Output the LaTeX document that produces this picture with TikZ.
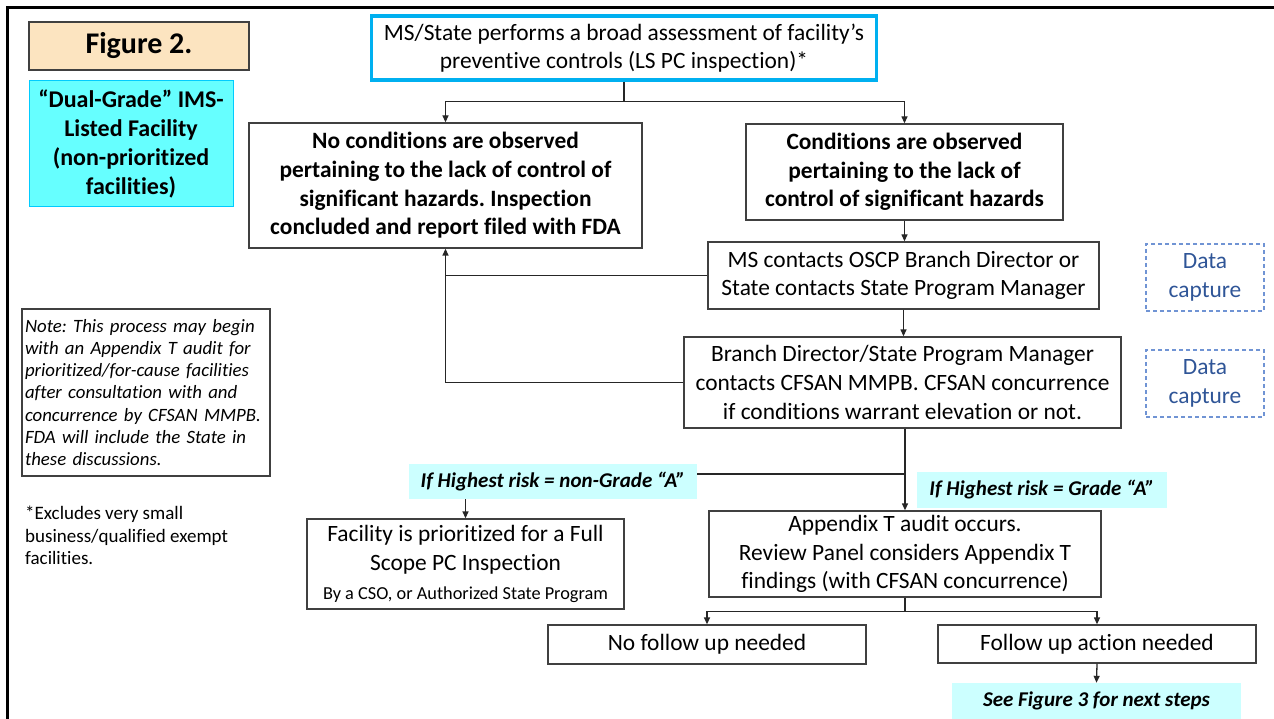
\documentclass[tikz,border=0pt]{standalone}
\usepackage{fontspec}
\setmainfont{Carlito}[Ligatures=NoCommon]
\usepackage{tikz}
\usetikzlibrary{arrows.meta}
\frenchspacing

\definecolor{boxline}{RGB}{64,64,64}
\definecolor{figfill}{RGB}{252,228,192}
\definecolor{dualfill}{RGB}{102,255,255}
\definecolor{dualline}{RGB}{0,204,255}
\definecolor{topline}{RGB}{0,176,240}
\definecolor{riskfill}{RGB}{204,255,255}
\definecolor{dataline}{RGB}{112,148,212}
\definecolor{datatext}{RGB}{47,85,151}

\begin{document}
\begin{tikzpicture}[x=1pt,y=-1pt,>={Triangle[length=7pt,width=6pt]},
    box/.style={draw=boxline,line width=1.3pt,fill=white,inner sep=2pt,
      align=center,font=\fontsize{23.4}{28.7}\selectfont},
    boldbox/.style={box,font=\fontsize{23.4}{28.7}\selectfont\bfseries},
    risk/.style={fill=riskfill,inner sep=2pt,align=center,
      font=\fontsize{21}{25}\selectfont\bfseries\itshape},
    datacap/.style={draw=dataline,line width=1.2pt,dash pattern=on 4pt off 3pt,
      text=datatext,align=center,minimum width=118,minimum height=67,
      font=\fontsize{23.4}{28.7}\selectfont},
    link/.style={draw=black!85,line width=1.3pt}]
          \useasboundingbox (0,0) rectangle (1274,719);
          % slide frame
          \draw[line width=3pt] (7,719)--(7,8)--(1274,8);
          % left column
          \node[draw=boxline,line width=1.3pt,fill=figfill,minimum width=220,
            minimum height=48,font=\fontsize{30}{36}\selectfont\bfseries]
          (fig) at (139,46) {Figure 2.};
          \node[draw=dualline,line width=1pt,fill=dualfill,align=center,
            minimum width=204,minimum height=126,
            font=\fontsize{24}{29}\selectfont\bfseries] (dual) at (131,144)
          {“Dual-Grade” IMS-\\Listed Facility\\(non-prioritized\\facilities)};
          \node[draw=boxline,line width=1.3pt,align=left,text width=242,
            inner xsep=3pt,minimum height=167,
            font=\fontsize{18.8}{22.3}\selectfont\itshape] (note) at (146,392.5)
          {Note: This process may begin\\with an Appendix T audit for\\
            prioritized/for-cause facilities\\after consultation with and\\
            concurrence by CFSAN MMPB.\\FDA will include the State in\\
            these discussions.};
          \node[anchor=north west,inner sep=0pt,align=left,
            font=\fontsize{19}{22.5}\selectfont] (excl) at (25,506)
          {*Excludes very small\\business/qualified exempt\\facilities.};
          % main flow
          \node[box,draw=topline,line width=3.5pt,minimum width=505,
            minimum height=64] (top) at (624,48)
          {MS/State performs a broad assessment of facility’s\\
            preventive controls (LS PC inspection)*};
          \node[boldbox,minimum width=393,minimum height=125] (nocond)
          at (445.5,185.5) {No conditions are observed\\pertaining to the lack
            of control of\\significant hazards. Inspection\\concluded and
            report filed with FDA};
          \node[boldbox,minimum width=317,minimum height=96] (cond)
          at (904.5,172) {Conditions are observed\\pertaining to the lack
            of\\control of significant hazards};
          \node[box,minimum width=391,minimum height=67] (ms) at (903.5,275.5)
          {MS contacts OSCP Branch Director or\\State contacts State Program
            Manager};
          \node[box,minimum width=437,minimum height=91] (branch)
          at (902.5,382.5) {Branch Director/State Program Manager\\contacts
            CFSAN MMPB. CFSAN concurrence\\if conditions warrant elevation
            or not.};
          \node[datacap] (data1) at (1205,277.5) {Data\\capture};
          \node[datacap] (data2) at (1205,383.5) {Data\\capture};
          \node[risk,minimum width=288,minimum height=35] (nongrade)
          at (553,481.5) {If Highest risk = non-Grade “A”};
          \node[risk,minimum width=250,minimum height=36] (grade)
          at (1042,490) {If Highest risk = Grade “A”};
          \node[box,minimum width=317,minimum height=90] (facility)
          at (465.5,564) {Facility is prioritized for a Full\\Scope PC
            Inspection\\{\fontsize{18.3}{22}\selectfont By a CSO, or
              Authorized State Program}};
          \node[box,minimum width=392,minimum height=86] (appendix)
          at (905,554) {Appendix T audit occurs.\\Review Panel considers
            Appendix T\\findings (with CFSAN concurrence)};
          \node[box,minimum width=318,minimum height=39] (nofollow)
          at (707,644.5) {No follow up needed};
          \node[box,minimum width=318,minimum height=38] (follow)
          at (1097,644) {Follow up action needed};
          \node[risk,minimum width=289,minimum height=36] (seefig)
          at (1096.5,701) {See Figure 3 for next steps};
          % connectors
          \draw[link] (top.south)--++(0,20) coordinate (topsplit);
          \draw[link,->] (topsplit)-|(nocond.north);
          \draw[link,->] (topsplit)-|(cond.north);
          \draw[link,->] (cond.south)--(cond.south|-ms.north);
          \draw[link,->] (ms.south)--(ms.south|-branch.north);
          \draw[link] (ms.west)--(ms.west-|nocond.south);
          \draw[link,->] (branch.west)-|(nocond.south);
          \draw[link,->] (branch.south-|appendix.north)--(appendix.north);
          \coordinate (riskjoin) at (905,474);
          \draw[link] (riskjoin)--(riskjoin-|nongrade.east);
          \draw[link,->] (facility.north|-nongrade.south)--(facility.north);
          \draw[link] (appendix.south)--++(0,14) coordinate (appsplit);
          \draw[link,->] (appsplit)-|(nofollow.north);
          \draw[link,->] (appsplit)-|(follow.north);
          \draw[link,->] (follow.south)--(seefig.north);
        \end{tikzpicture}
\end{document}
